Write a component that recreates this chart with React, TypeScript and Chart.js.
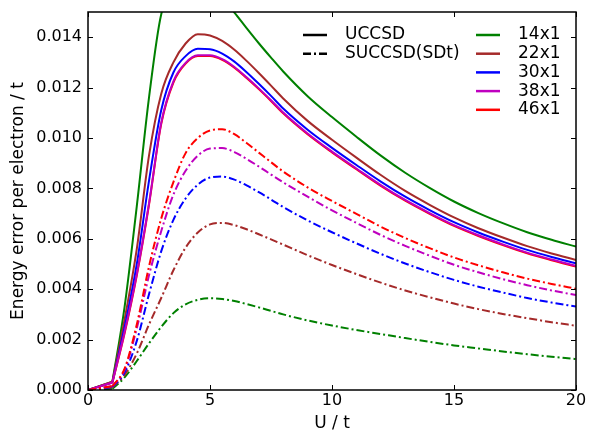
import { useEffect, useRef } from 'react';
import { Chart, registerables } from 'chart.js';

Chart.register(...registerables);

// U / t sample positions
const U_VALUES = [0, 1, 1.5, 2, 2.5, 3, 3.5, 4, 4.5, 5, 5.5, 6, 6.5, 7, 7.5, 8, 9, 10, 11, 12, 13, 14, 15, 16, 17, 18, 19, 20];

// UCCSD (solid)
const UCCSD_14 = [0, 0.00033, 0.0033, 0.0073, 0.0116, 0.0149, 0.0157, 0.016, 0.01605, 0.01595, 0.01555, 0.01498, 0.01436, 0.01376, 0.01319, 0.01264, 0.01166, 0.01083, 0.01005, 0.0093, 0.00862, 0.00802, 0.00748, 0.00702, 0.00662, 0.00626, 0.00596, 0.00569];
const UCCSD_22 = [0, 0.00033, 0.0028, 0.0056, 0.0093, 0.01175, 0.013, 0.01375, 0.01412, 0.01407, 0.01385, 0.0135, 0.01306, 0.01258, 0.01208, 0.01157, 0.01068, 0.00993, 0.00922, 0.00853, 0.0079, 0.00735, 0.00685, 0.00642, 0.00605, 0.00571, 0.00542, 0.00516];
const UCCSD_30 = [0, 0.0003, 0.0025, 0.005, 0.0083, 0.0111, 0.0126, 0.01325, 0.01354, 0.01352, 0.01335, 0.01303, 0.01261, 0.01215, 0.01167, 0.01117, 0.01033, 0.00961, 0.00893, 0.00827, 0.00767, 0.00714, 0.00666, 0.00625, 0.00589, 0.00556, 0.00528, 0.00503];
const UCCSD_38 = [0, 0.0003, 0.0023, 0.0046, 0.0074, 0.0106, 0.01225, 0.01298, 0.01328, 0.01328, 0.01313, 0.01282, 0.01241, 0.01197, 0.0115, 0.01101, 0.01018, 0.00946, 0.00879, 0.00813, 0.00754, 0.00702, 0.00654, 0.00614, 0.00578, 0.00545, 0.00518, 0.00493];
const UCCSD_46 = [0, 0.0003, 0.00225, 0.00455, 0.00735, 0.01055, 0.0122, 0.01295, 0.01325, 0.01325, 0.0131, 0.01279, 0.01238, 0.01194, 0.01147, 0.01098, 0.01015, 0.00943, 0.00876, 0.0081, 0.00751, 0.00699, 0.00651, 0.00611, 0.00575, 0.00542, 0.00515, 0.0049];

// SUCCSD(SDt) (dash-dot)
const SUCCSD_14 = [0, 0.00005, 0.0005, 0.00115, 0.00185, 0.0025, 0.00305, 0.0034, 0.00358, 0.00364, 0.00361, 0.00353, 0.00341, 0.00328, 0.00314, 0.003, 0.00276, 0.00256, 0.00238, 0.00222, 0.00206, 0.00191, 0.00177, 0.00165, 0.00153, 0.00142, 0.00132, 0.00123];
const SUCCSD_22 = [0, 0.0001, 0.0006, 0.00145, 0.0026, 0.00365, 0.00475, 0.00565, 0.00625, 0.00657, 0.00663, 0.00654, 0.00638, 0.00618, 0.00598, 0.00577, 0.00535, 0.00496, 0.0046, 0.00426, 0.00395, 0.00368, 0.00343, 0.00321, 0.00302, 0.00285, 0.00269, 0.00255];
const SUCCSD_30 = [0, 0.00012, 0.0007, 0.00195, 0.0038, 0.0055, 0.00675, 0.0076, 0.00815, 0.00843, 0.00847, 0.00835, 0.00812, 0.00785, 0.00756, 0.00726, 0.00673, 0.00626, 0.00582, 0.0054, 0.00502, 0.00468, 0.00437, 0.0041, 0.00387, 0.00365, 0.00347, 0.00331];
const SUCCSD_38 = [0, 0.00015, 0.0008, 0.00245, 0.00455, 0.0063, 0.00775, 0.0087, 0.0093, 0.00958, 0.0096, 0.00944, 0.00917, 0.00887, 0.00855, 0.00824, 0.00767, 0.00713, 0.00663, 0.00615, 0.00572, 0.00533, 0.00497, 0.00467, 0.0044, 0.00416, 0.00395, 0.00377];
const SUCCSD_46 = [0, 0.00015, 0.00085, 0.0026, 0.0049, 0.0068, 0.00825, 0.0094, 0.01, 0.0103, 0.01035, 0.01015, 0.0098, 0.00942, 0.00904, 0.00867, 0.00804, 0.0075, 0.00699, 0.00648, 0.00603, 0.00563, 0.00526, 0.00495, 0.00467, 0.00442, 0.00421, 0.00402];

const SIZES = ['14x1', '22x1', '30x1', '38x1', '46x1'];
const COLORS = ['#008000', '#a52a2a', '#0000ff', '#bf00bf', '#ff0000'];
const METHODS = ['UCCSD', 'SUCCSD(SDt)'];

const X_TICKS = [0, 5, 10, 15, 20];
const Y_TICKS = [0, 0.002, 0.004, 0.006, 0.008, 0.01, 0.012, 0.014];

const X_TITLE = 'U / t';
const Y_TITLE = 'Energy error per electron / t';

const FONT = "'DejaVu Sans', sans-serif";
const DASHDOT = [8, 3, 2, 3];
const KINK_INDEX = 1; // sharp corner at U/t = 1 in every curve

const pts = (ys: number[], from: number, to: number) =>
  ys.slice(from, to + 1).map((y, i) => ({ x: U_VALUES[from + i], y }));

const framePlugin = {
  id: 'frameAndLegend',
  afterDatasetsDraw(chart: any) {
    const { ctx, chartArea: a, scales } = chart;
    ctx.save();
    ctx.strokeStyle = '#000';
    ctx.lineWidth = 1;
    for (const v of X_TICKS) {
      const px = Math.round(scales.x.getPixelForValue(v)) + 0.5;
      ctx.beginPath();
      ctx.moveTo(px, a.bottom);
      ctx.lineTo(px, a.bottom - 5);
      ctx.moveTo(px, a.top);
      ctx.lineTo(px, a.top + 5);
      ctx.stroke();
    }
    for (const v of Y_TICKS) {
      const py = Math.round(scales.y.getPixelForValue(v)) + 0.5;
      ctx.beginPath();
      ctx.moveTo(a.left, py);
      ctx.lineTo(a.left + 5, py);
      ctx.moveTo(a.right, py);
      ctx.lineTo(a.right - 5, py);
      ctx.stroke();
    }
    ctx.lineWidth = 1.5;
    ctx.strokeRect(a.left, a.top, a.right - a.left, a.bottom - a.top);

    // legend
    ctx.font = `17px ${FONT}`;
    ctx.textBaseline = 'middle';
    ctx.textAlign = 'left';
    ctx.fillStyle = '#000';
    ctx.lineWidth = 2.5;
    const rowH = 18.7;
    METHODS.forEach((m, i) => {
      const y = 35 + i * rowH;
      ctx.strokeStyle = '#000';
      ctx.setLineDash(i === 0 ? [] : DASHDOT);
      ctx.beginPath();
      ctx.moveTo(303, y);
      ctx.lineTo(327, y);
      ctx.stroke();
      ctx.fillText(m, 345, y);
    });
    ctx.setLineDash([]);
    SIZES.forEach((s, i) => {
      const y = 35 + i * rowH;
      ctx.strokeStyle = COLORS[i];
      ctx.beginPath();
      ctx.moveTo(476, y);
      ctx.lineTo(500, y);
      ctx.stroke();
      ctx.fillText(s, 518, y);
    });
    ctx.restore();
  },
};

export default function App() {
  const ref = useRef<HTMLCanvasElement | null>(null);

  useEffect(() => {
    if (!ref.current) return;
    const series: { data: number[]; color: string; dash: number[]; label: string }[] = [];
    const solids = [UCCSD_14, UCCSD_22, UCCSD_30, UCCSD_46, UCCSD_38];
    const solidColors = [COLORS[0], COLORS[1], COLORS[2], COLORS[4], COLORS[3]];
    solids.forEach((d, i) => series.push({ data: d, color: solidColors[i], dash: [], label: METHODS[0] }));
    const dashes = [SUCCSD_14, SUCCSD_22, SUCCSD_30, SUCCSD_38, SUCCSD_46];
    dashes.forEach((d, i) => series.push({ data: d, color: COLORS[i], dash: DASHDOT, label: METHODS[1] }));

    const last = U_VALUES.length - 1;
    const datasets: any[] = [];
    series.forEach((s) => {
      // straight low-U segment, then smooth curve from the kink onward
      datasets.push({
        label: s.label,
        data: pts(s.data, 0, KINK_INDEX),
        borderColor: s.color,
        borderWidth: 2,
        borderDash: s.dash,
        pointRadius: 0,
        tension: 0,
        fill: false,
        clip: 0,
      });
      datasets.push({
        label: s.label,
        data: pts(s.data, KINK_INDEX, last),
        borderColor: s.color,
        borderWidth: 2,
        borderDash: s.dash,
        pointRadius: 0,
        cubicInterpolationMode: 'monotone',
        fill: false,
        clip: 0,
      });
    });
    const n = datasets.length;
    datasets.forEach((d, i) => (d.order = n - i));

    const chart = new Chart(ref.current, {
      type: 'line',
      data: { datasets },
      options: {
        animation: false,
        responsive: false,
        devicePixelRatio: 1,
        layout: { padding: { top: 12, right: 13, left: 0, bottom: 0 } },
        plugins: { legend: { display: false }, tooltip: { enabled: false } },
        scales: {
          x: {
            type: 'linear',
            min: 0,
            max: 20,
            grid: { display: false, drawTicks: false },
            border: { display: false },
            afterFit: (s: any) => {
              s.height = 41;
              s.paddingLeft = 0;
              s.paddingRight = 0;
            },
            afterBuildTicks: (s: any) => {
              s.ticks = X_TICKS.map((v) => ({ value: v }));
            },
            ticks: {
              color: '#000',
              padding: 1,
              maxRotation: 0,
              font: { family: FONT, size: 16 },
              callback: (v: any) => String(v),
            },
            title: {
              display: true,
              text: X_TITLE,
              color: '#000',
              font: { family: FONT, size: 17, lineHeight: 1.2 },
              padding: { top: 0, bottom: -3 },
            },
          },
          y: {
            type: 'linear',
            min: 0,
            max: 0.015,
            grid: { display: false, drawTicks: false },
            border: { display: false },
            afterFit: (s: any) => {
              s.width = 88;
              s.paddingTop = 0;
              s.paddingBottom = 0;
            },
            afterBuildTicks: (s: any) => {
              s.ticks = Y_TICKS.map((v) => ({ value: v }));
            },
            ticks: {
              color: '#000',
              padding: 6,
              font: { family: FONT, size: 16 },
              callback: (v: any) => Number(v).toFixed(3),
            },
            title: {
              display: true,
              text: Y_TITLE,
              color: '#000',
              font: { family: FONT, size: 17, lineHeight: 1.2 },
              padding: { top: 8, bottom: 0 },
            },
          },
        },
      },
      plugins: [framePlugin],
    });
    return () => chart.destroy();
  }, []);

  return (
    <div style={{ position: 'absolute', left: 0, top: 0, width: 589, height: 431, background: '#fff' }}>
      <canvas ref={ref} width={589} height={431} style={{ width: 589, height: 431, display: 'block' }} />
    </div>
  );
}
